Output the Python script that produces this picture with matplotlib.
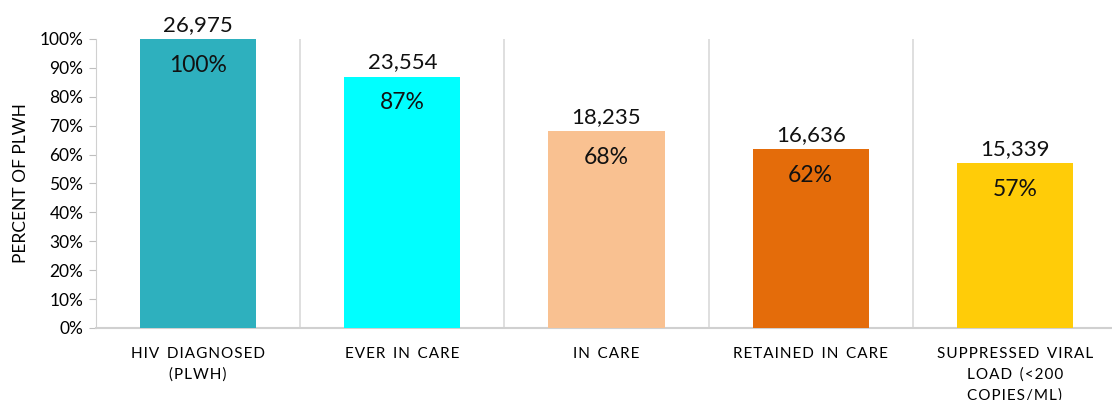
import matplotlib

matplotlib.use("Agg")
import matplotlib.pyplot as plt
import numpy as np
from matplotlib.ticker import FixedLocator, PercentFormatter

categories = [
    "HIV DIAGNOSED\n(PLWH)",
    "EVER IN CARE",
    "IN CARE",
    "RETAINED IN CARE",
    "SUPPRESSED VIRAL\nLOAD (<200\nCOPIES/ML)",
]
counts = [26975, 23554, 18235, 16636, 15339]
percents = [100, 87, 68, 62, 57]
colors = ["#2EB0BE", "#00FFFF", "#F9C191", "#E46C0A", "#FFCC08"]

plt.rcParams["font.family"] = ["Lato", "DejaVu Sans"]


def spaced(label):
    # the reference uses letter-spaced category names
    lines = []
    for line in label.split("\n"):
        lines.append("\u200a".join(line).replace("\u200a \u200a", "\u2009 \u2009"))
    return "\n".join(lines)


fig = plt.figure(figsize=(11.12, 4.0), dpi=100)
ax = fig.add_axes([96 / 1112, 72 / 400, 1021 / 1112, 289 / 400])

x = np.arange(len(categories))
bars = ax.bar(x, percents, width=0.57, color=colors, zorder=3)

for b, n, p in zip(bars, counts, percents):
    cx = b.get_x() + b.get_width() / 2
    ax.annotate(f"{n:,}", (cx, p), xytext=(0, 3), textcoords="offset points",
                ha="center", va="bottom", fontsize=16, color="#111111")
    ax.annotate(f"{p}%", (cx, p), xytext=(0, -19), textcoords="offset points",
                ha="center", va="center", fontsize=16.5, color="#111111")

ax.set_xlim(-0.5, len(categories) - 0.5)
ax.set_ylim(0, 100)
ax.yaxis.set_major_locator(FixedLocator(np.arange(0, 101, 10)))
ax.yaxis.set_major_formatter(PercentFormatter(decimals=0))
ax.set_xticks(x)
ax.set_xticklabels([spaced(c) for c in categories], fontsize=11, linespacing=1.55)
ax.xaxis.set_minor_locator(FixedLocator(np.arange(0.5, len(categories) - 0.5, 1)))
ax.tick_params(axis="x", which="both", length=0, pad=14)
ax.tick_params(axis="y", length=5, color="#BFBFBF", labelsize=12.5, pad=4)
ax.grid(axis="x", which="minor", color="#D9D9D9", linewidth=1.2, zorder=0)

for side in ["top", "right"]:
    ax.spines[side].set_visible(False)
ax.spines["left"].set_color("#D0D0D0")
ax.spines["bottom"].set_color("#D0D0D0")
ax.spines["bottom"].set_linewidth(1.5)

ax.set_ylabel("PERCENT OF PLWH", fontsize=12.5, labelpad=8)

fig.savefig("out.png", dpi=100)
